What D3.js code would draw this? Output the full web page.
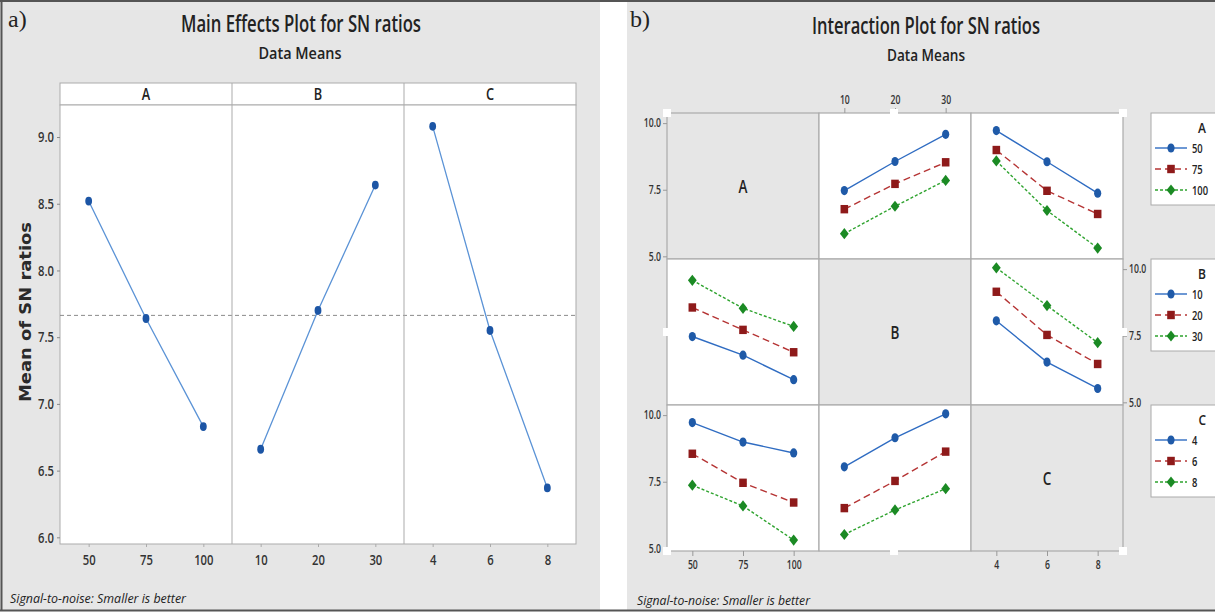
<!DOCTYPE html>
<html>
<head>
<meta charset="utf-8">
<script src="https://cdn.jsdelivr.net/npm/d3@7/dist/d3.min.js"></script>
<style>
  body { margin: 0; background: #fff; }
  text { font-family: "Open Sans", "DejaVu Sans", sans-serif; fill: #222; }
</style>
</head>
<body>
<svg id="chart" width="1215" height="612"></svg>
<script>
// ---- data ----
const factors = ["A", "B", "C"];
const levelsA = ["50", "75", "100"];
const levelsB = ["10", "20", "30"];
const levelsC = ["4", "6", "8"];

// main effects (mean of SN ratios)
const meanA = [8.52, 7.64, 6.83];
const meanB = [6.66, 7.70, 8.64];
const meanC = [9.08, 7.55, 6.37];
const mainTicks = [6.0, 6.5, 7.0, 7.5, 8.0, 8.5, 9.0];

// interaction means, rows = first factor level, cols = second factor level
const interAB = [[7.47, 8.56, 9.58], [6.77, 7.72, 8.53], [5.85, 6.88, 7.85]];
const interAC = [[9.72, 8.55, 7.37], [8.99, 7.46, 6.59], [8.58, 6.72, 5.31]];
const interBC = [[8.06, 6.51, 5.52], [9.15, 7.53, 6.44], [10.05, 8.63, 7.24]];
const interTicks = [5.0, 7.5, 10.0];

const levels = { A: levelsA, B: levelsB, C: levelsC };
const mains = { A: meanA, B: meanB, C: meanC };
const tables = { AB: interAB, AC: interAC, BC: interBC };

const svg = d3.select("#chart");
const gridCol = "#ababab";
const colors = ["#1f5aa8", "#8e1a1a", "#1b8a24"];
const lineCols = ["#2f6cc2", "#b53434", "#2ea32e"];
const dashes = [null, "7,4", "3,2"];

function squeeze(sel, f) {
  sel.each(function () {
    const w = this.getComputedTextLength();
    d3.select(this).attr("textLength", w * f).attr("lengthAdjust", "spacingAndGlyphs");
  });
}
function fit(sel, len) {
  sel.attr("textLength", len).attr("lengthAdjust", "spacingAndGlyphs");
}
function marker(g, k, x, y, s) {
  s = s || 1;
  if (k === 0) {
    g.append("ellipse").attr("cx", x).attr("cy", y).attr("rx", 3.6 * s).attr("ry", 4.6 * s)
      .attr("fill", colors[0]);
  } else if (k === 1) {
    g.append("rect").attr("x", x - 3.8 * s).attr("y", y - 4.2 * s)
      .attr("width", 7.6 * s).attr("height", 8.4 * s).attr("fill", colors[1]);
  } else {
    g.append("path").attr("fill", colors[2])
      .attr("d", `M${x},${y - 5.6 * s}L${x + 4.4 * s},${y}L${x},${y + 5.6 * s}L${x - 4.4 * s},${y}Z`);
  }
}

// ---- backgrounds & frame ----
svg.append("rect").attr("x", 0).attr("y", 0).attr("width", 600).attr("height", 610).attr("fill", "#e6e6e6");
svg.append("rect").attr("x", 627).attr("y", 0).attr("width", 588).attr("height", 610).attr("fill", "#e6e6e6");
svg.append("line").attr("x1", 0).attr("x2", 1215).attr("y1", 1).attr("y2", 1).attr("stroke", "#555").attr("stroke-width", 2);
svg.append("line").attr("x1", 0).attr("x2", 1215).attr("y1", 610.5).attr("y2", 610.5).attr("stroke", "#555").attr("stroke-width", 2);
svg.append("line").attr("x1", 1.5).attr("x2", 1.5).attr("y1", 0).attr("y2", 611).attr("stroke", "#555").attr("stroke-width", 2);

// ================= a) Main effects =================
const left = svg.append("g");
left.append("text").attr("x", 8).attr("y", 27).style("font-family", "'Liberation Serif', serif")
  .style("font-size", "24px").text("a)");
left.append("text").attr("x", 301).attr("y", 32).attr("text-anchor", "middle")
  .style("font-size", "23px").style("font-weight", 600).text("Main Effects Plot for SN ratios").call(fit, 240);
left.append("text").attr("x", 300).attr("y", 59).attr("text-anchor", "middle")
  .style("font-size", "17px").style("font-weight", 600).text("Data Means").call(fit, 83);

const mTop = 105, mBot = 544, mLeft = 60, mRight = 576;
const mainY = d3.scaleLinear().domain([5.95, 9.24]).range([mBot, mTop]);
const facetX = d3.scaleBand().domain(factors).range([mLeft, mRight]);

left.append("rect").attr("x", mLeft).attr("y", 83).attr("width", mRight - mLeft).attr("height", 22)
  .attr("fill", "#fff").attr("stroke", gridCol);
left.append("rect").attr("x", mLeft).attr("y", mTop).attr("width", mRight - mLeft).attr("height", mBot - mTop)
  .attr("fill", "#fff").attr("stroke", gridCol);

const grand = d3.mean(meanA);
left.append("line").attr("x1", mLeft).attr("x2", mRight).attr("y1", mainY(grand)).attr("y2", mainY(grand))
  .attr("stroke", "#8a8a8a").attr("stroke-dasharray", "4,3");

factors.forEach((f, i) => {
  const x0 = facetX(f), x1 = x0 + facetX.bandwidth();
  if (i > 0) left.append("line").attr("x1", x0).attr("x2", x0).attr("y1", 83).attr("y2", mBot).attr("stroke", gridCol);
  left.append("text").attr("x", (x0 + x1) / 2).attr("y", 100).attr("text-anchor", "middle")
    .style("font-size", "17px").style("font-weight", 600).text(f).call(squeeze, 0.75);

  const xs = d3.scalePoint().domain(levels[f]).range([x0, x1]).padding(0.5);
  const ax = left.append("g").attr("transform", `translate(0,${mBot})`)
    .call(d3.axisBottom(xs).tickSize(3).tickPadding(7));
  ax.select(".domain").remove();
  ax.selectAll("line").attr("stroke", gridCol);
  ax.selectAll("text").style("font-size", "15px").style("font-weight", 600).style("fill", "#333").call(squeeze, 0.75);

  const line = d3.line().x((d, j) => xs(levels[f][j])).y(d => mainY(d));
  left.append("path").attr("d", line(mains[f])).attr("fill", "none")
    .attr("stroke", "#5b93d6").attr("stroke-width", 1.3);
  mains[f].forEach((v, j) => {
    left.append("ellipse").attr("cx", xs(levels[f][j])).attr("cy", mainY(v))
      .attr("rx", 3.4).attr("ry", 4.4).attr("fill", "#1c55a5");
  });
});

const yAx = left.append("g").attr("transform", `translate(${mLeft},0)`)
  .call(d3.axisLeft(mainY).tickValues(mainTicks).tickFormat(d3.format(".1f")).tickSize(3).tickPadding(3));
yAx.select(".domain").remove();
yAx.selectAll("line").attr("stroke", "#888");
yAx.selectAll("text").style("font-size", "15px").style("font-weight", 600).style("fill", "#333").call(squeeze, 0.75);

left.append("text").attr("transform", "translate(31,312) rotate(-90)").attr("text-anchor", "middle")
  .style("font-family", "'DejaVu Sans', sans-serif").style("font-size", "16px").style("font-weight", "bold")
  .style("fill", "#2a2a2a").text("Mean of SN ratios").call(fit, 180);

left.append("text").attr("x", 10).attr("y", 603).style("font-style", "italic").style("font-size", "13px")
  .text("Signal-to-noise: Smaller is better").call(fit, 176);

// ================= b) Interaction =================
const right = svg.append("g");
right.append("text").attr("x", 630).attr("y", 27).style("font-family", "'Liberation Serif', serif")
  .style("font-size", "24px").text("b)");
right.append("text").attr("x", 926).attr("y", 34).attr("text-anchor", "middle")
  .style("font-size", "23px").style("font-weight", 600).text("Interaction Plot for SN ratios").call(fit, 228);
right.append("text").attr("x", 926).attr("y", 61).attr("text-anchor", "middle")
  .style("font-size", "17px").style("font-weight", 600).text("Data Means").call(fit, 78);

const colBand = d3.scaleBand().domain(factors).range([667, 1123]);
const rowBand = d3.scaleBand().domain(factors).range([113, 551]);
const bw = colBand.bandwidth(), bh = rowBand.bandwidth();

function cellValue(lineF, xF, li, xi) {
  if (tables[lineF + xF]) return tables[lineF + xF][li][xi];
  return tables[xF + lineF][xi][li];
}

factors.forEach((rf, r) => {
  factors.forEach((cf, c) => {
    const x0 = colBand(cf), y0 = rowBand(rf);
    const cell = right.append("g");
    cell.append("rect").attr("x", x0).attr("y", y0).attr("width", bw).attr("height", bh)
      .attr("fill", r === c ? "#e6e6e6" : "#fff").attr("stroke", gridCol).attr("stroke-width", 1.2);
    if (r === c) {
      cell.append("text").attr("x", x0 + bw / 2).attr("y", y0 + bh / 2 + 7).attr("text-anchor", "middle")
        .style("font-size", "18px").style("font-weight", 600).text(rf).call(squeeze, 0.75);
      return;
    }
    const xs = d3.scalePoint().domain(levels[cf]).range([x0, x0 + bw]).padding(0.5);
    const ys = d3.scaleLinear().domain([4.9, 10.38]).range([y0 + bh, y0]);
    levels[rf].forEach((lv, li) => {
      const vals = levels[cf].map((xv, xi) => cellValue(rf, cf, li, xi));
      const line = d3.line().x((d, xi) => xs(levels[cf][xi])).y(d => ys(d));
      cell.append("path").attr("d", line(vals)).attr("fill", "none")
        .attr("stroke", lineCols[li]).attr("stroke-width", 1.4)
        .attr("stroke-dasharray", dashes[li]);
      vals.forEach((v, xi) => marker(cell, li, xs(levels[cf][xi]), ys(v)));
    });
  });
});

// axes around the matrix
function styleAxis(g) {
  g.select(".domain").remove();
  g.selectAll("line").attr("stroke", "#999");
  g.selectAll("text").style("font-size", "12px").style("font-weight", 600).style("fill", "#333").call(squeeze, 0.72);
}
const yFmt = d3.format(".1f");
[["A", "left"], ["C", "left"], ["B", "right"]].forEach(([rf, side]) => {
  const y0 = rowBand(rf);
  const ys = d3.scaleLinear().domain([4.9, 10.38]).range([y0 + bh, y0]);
  const axis = side === "left" ? d3.axisLeft(ys) : d3.axisRight(ys);
  right.append("g").attr("transform", `translate(${side === "left" ? 667 : 1123},0)`)
    .call(axis.tickValues(interTicks).tickFormat(yFmt).tickSize(4).tickPadding(2)).call(styleAxis);
});
[["B", "top"], ["A", "bottom"], ["C", "bottom"]].forEach(([cf, side]) => {
  const x0 = colBand(cf);
  const xs = d3.scalePoint().domain(levels[cf]).range([x0, x0 + bw]).padding(0.5);
  const axis = side === "top" ? d3.axisTop(xs) : d3.axisBottom(xs);
  right.append("g").attr("transform", `translate(0,${side === "top" ? 113 : 551})`)
    .call(axis.tickSize(5).tickPadding(4)).call(styleAxis);
});

// selection handles left on the graph
[[667, 113], [894, 113], [1123, 113], [667, 332], [1123, 332], [667, 551], [894, 551], [1123, 551]]
  .forEach(([x, y]) => {
    right.append("rect").attr("x", x - 4).attr("y", y - 4).attr("width", 8).attr("height", 8).attr("fill", "#fff");
  });

// legends
factors.forEach(f => {
  const y0 = rowBand(f);
  const lg = right.append("g");
  lg.append("rect").attr("x", 1151).attr("y", y0).attr("width", 80).attr("height", 92)
    .attr("fill", "#fff").attr("stroke", "#aaa");
  lg.append("text").attr("x", 1206).attr("y", y0 + 20).attr("text-anchor", "end")
    .style("font-size", "15px").style("font-weight", 600).text(f).call(squeeze, 0.8);
  levels[f].forEach((lv, li) => {
    const yy = y0 + 35 + li * 21;
    lg.append("line").attr("x1", 1155).attr("x2", 1187).attr("y1", yy).attr("y2", yy)
      .attr("stroke", lineCols[li]).attr("stroke-width", 1.4).attr("stroke-dasharray", li === 1 ? "6,4" : dashes[li]);
    marker(lg, li, 1171, yy);
    lg.append("text").attr("x", 1192).attr("y", yy + 5).style("font-size", "13px").style("font-weight", 600)
      .text(lv).call(squeeze, 0.72);
  });
});

right.append("text").attr("x", 637).attr("y", 605).style("font-style", "italic").style("font-size", "13px")
  .text("Signal-to-noise: Smaller is better").call(fit, 173);
</script>
</body>
</html>
